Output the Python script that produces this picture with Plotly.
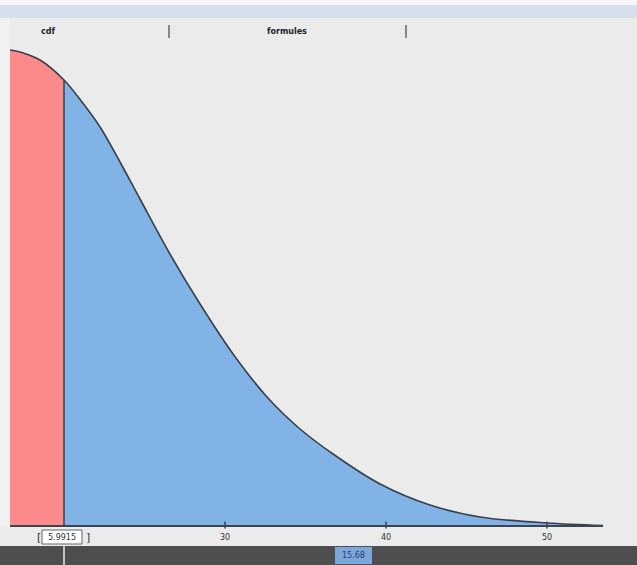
import plotly.graph_objects as go

# --- data ---
x_vals = [16.65, 17.27, 18.51, 20.0, 21.12, 22.24, 23.48, 24.72, 26.58, 28.45, 30.50,
          32.61, 34.66, 36.71, 39.63, 42.73, 45.84, 50.0, 53.48]
density = [476, 474, 466, 446, 424, 399, 364, 327, 272, 222, 172,
           129, 97, 72, 42, 21, 9, 3, 0.5]
cutoff = 20.0
cutoff_label = "5.9915"
tick_vals = [30, 40, 50]
tick_labels = ["30", "40", "50"]
tab_labels = ["cdf", "formules"]
status_value = "15.68"

W, H = 637, 565
X0 = 30 - 225 / 16.1
X1 = 30 + 412 / 16.1


def px(v):
    return v / W


def py(v):
    return 1 - v / H


red_x = [x for x in x_vals if x <= cutoff]
red_y = [y for x, y in zip(x_vals, density) if x <= cutoff]
blue_x = [x for x in x_vals if x >= cutoff]
blue_y = [y for x, y in zip(x_vals, density) if x >= cutoff]
cut_h = density[x_vals.index(cutoff)]

sm = 0.9
fig = go.Figure()
fig.add_trace(go.Scatter(x=red_x, y=red_y, fill="tozeroy", mode="lines",
                         line=dict(width=0, shape="spline", smoothing=sm), fillcolor="#fd8a8a",
                         hoverinfo="skip"))
fig.add_trace(go.Scatter(x=blue_x, y=blue_y, fill="tozeroy", mode="lines",
                         line=dict(width=0, shape="spline", smoothing=sm), fillcolor="#82b3e6",
                         hoverinfo="skip"))
fig.add_trace(go.Scatter(x=x_vals, y=density, mode="lines",
                         line=dict(color="#36404c", width=1.6, shape="spline", smoothing=sm),
                         hoverinfo="skip"))
fig.add_trace(go.Scatter(x=[cutoff, cutoff], y=[0, cut_h], mode="lines",
                         line=dict(color="#36404c", width=1.5), hoverinfo="skip"))
fig.add_trace(go.Scatter(x=[x_vals[0], x_vals[-1]], y=[0, 0], mode="lines",
                         line=dict(color="#3c4450", width=2.2), hoverinfo="skip"))
fig.add_trace(go.Scatter(x=tick_vals, y=[1] * len(tick_vals), mode="markers",
                         marker=dict(symbol="line-ns", size=5,
                                     line=dict(color="#3c4450", width=1.5)),
                         hoverinfo="skip"))

shapes = [
    # top window strip
    dict(type="rect", xref="paper", yref="paper", x0=0, x1=1, y0=py(5), y1=py(0),
         fillcolor="#f7f5f6", line_width=0, layer="below"),
    dict(type="rect", xref="paper", yref="paper", x0=0, x1=1, y0=py(18), y1=py(5),
         fillcolor="#d6dfec", line_width=0, layer="below"),
    # left pale margin
    dict(type="rect", xref="paper", yref="paper", x0=0, x1=px(10), y0=py(527), y1=py(18),
         fillcolor="#f1f1f1", line_width=0, layer="below"),
    # tab separators
    dict(type="line", xref="paper", yref="paper", x0=px(169), x1=px(169), y0=py(38), y1=py(25),
         line=dict(color="#444", width=1.2)),
    dict(type="line", xref="paper", yref="paper", x0=px(406), x1=px(406), y0=py(38), y1=py(25),
         line=dict(color="#444", width=1.2)),
    # bottom dark status band
    dict(type="rect", xref="paper", yref="paper", x0=0, x1=1, y0=0, y1=py(546),
         fillcolor="#4e4e4e", line_width=0),
    dict(type="rect", xref="paper", yref="paper", x0=px(335), x1=px(372), y0=py(564), y1=py(547),
         fillcolor="#7ba7d9", line_width=0),
    # cutoff marker line through the status band
    dict(type="line", xref="x", yref="paper", x0=cutoff, x1=cutoff, y0=0, y1=py(546),
         line=dict(color="#e8e8e8", width=1.5)),
    # cutoff label box
    dict(type="rect", xref="paper", yref="paper", x0=px(42), x1=px(82), y0=py(544), y1=py(530),
         fillcolor="#ffffff", line=dict(color="#666", width=1)),
]

annotations = [
    dict(text="<b>" + tab_labels[0] + "</b>", x=px(48), y=py(31), xref="paper", yref="paper",
         showarrow=False, font=dict(size=8, color="#222", family="DejaVu Sans"),
         xanchor="center", yanchor="middle"),
    dict(text="<b>" + tab_labels[1] + "</b>", x=px(287), y=py(31), xref="paper", yref="paper",
         showarrow=False, font=dict(size=8, color="#222", family="DejaVu Sans"),
         xanchor="center", yanchor="middle"),
    dict(text=cutoff_label, x=px(62), y=py(537), xref="paper", yref="paper", showarrow=False,
         font=dict(size=8, color="#334", family="DejaVu Sans"), xanchor="center", yanchor="middle"),
    dict(text="[", x=px(39), y=py(537), xref="paper", yref="paper", showarrow=False,
         font=dict(size=11, color="#333", family="DejaVu Sans"), xanchor="center", yanchor="middle"),
    dict(text="]", x=px(88), y=py(537), xref="paper", yref="paper", showarrow=False,
         font=dict(size=11, color="#333", family="DejaVu Sans"), xanchor="center", yanchor="middle"),
    dict(text=status_value, x=px(353), y=py(555.5), xref="paper", yref="paper", showarrow=False,
         font=dict(size=8, color="#1d3f7a", family="DejaVu Sans"), xanchor="center", yanchor="middle"),
]
for tv, tl in zip(tick_vals, tick_labels):
    annotations.append(dict(text=tl, x=tv, y=py(537), xref="x", yref="paper", showarrow=False,
                            font=dict(size=8, color="#333", family="DejaVu Sans"),
                            xanchor="center", yanchor="middle"))

fig.update_layout(
    width=W, height=H,
    margin=dict(l=0, r=0, t=0, b=0),
    paper_bgcolor="#ebebeb", plot_bgcolor="#ebebeb",
    showlegend=False,
    xaxis=dict(range=[X0, X1], visible=False, fixedrange=True),
    yaxis=dict(range=[-(H - 526), 526], visible=False, fixedrange=True),
    shapes=shapes, annotations=annotations,
)
fig.write_html("out.html", config={"displayModeBar": False},
               post_script="document.body.style.margin='0';document.body.style.overflow='hidden';")
